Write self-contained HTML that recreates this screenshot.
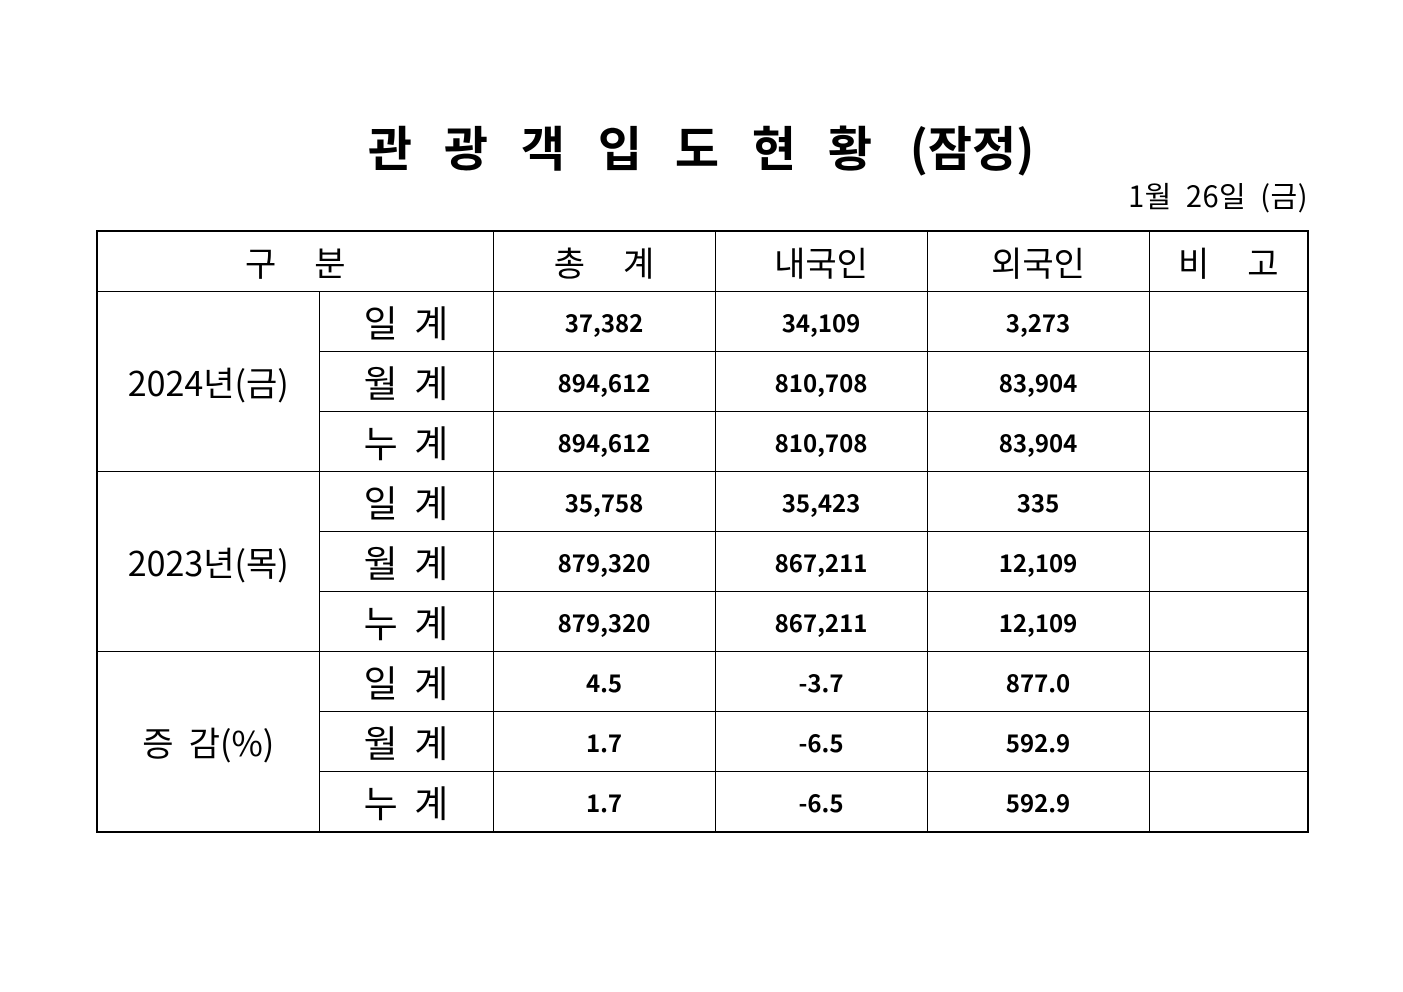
<!DOCTYPE html>
<html><head><meta charset="utf-8"><style>
body{margin:0;background:#fff;width:1403px;height:992px;position:relative;overflow:hidden;font-family:"Liberation Sans","Noto Sans CJK KR","NanumGothic",sans-serif;color:#000}
.c{position:absolute;top:116px;font-size:48px;font-weight:bold;line-height:58px;font-family:"Noto Sans CJK KR","NanumGothic",sans-serif;transform:translateX(-50%);white-space:nowrap}
.d{position:absolute;right:95px;top:176px;font-size:29px;line-height:38px;font-family:"Noto Sans CJK KR",sans-serif;white-space:pre;letter-spacing:0.5px}
table{position:absolute;left:96px;top:230px;border-collapse:collapse;border:2px solid #000;table-layout:fixed;width:1211px}
td{border:1px solid #000;text-align:center;padding:0;height:59px;line-height:59px;font-size:24px;font-weight:bold;font-family:"Noto Sans CJK KR",sans-serif;white-space:pre;overflow:hidden}
.h{font-weight:normal;font-size:34px;height:59px;line-height:59px}
.g{font-weight:normal;font-size:34px}
.s{font-weight:normal;font-size:37px}
</style></head><body>
<div class="c" style="left:390px">관</div>
<div class="c" style="left:466px">광</div>
<div class="c" style="left:543px">객</div>
<div class="c" style="left:620px">입</div>
<div class="c" style="left:697px">도</div>
<div class="c" style="left:774px">현</div>
<div class="c" style="left:850px">황</div>
<div class="c" style="left:972px">(잠정)</div>
<div class="d">1월  26일  (금)</div>
<table>
<colgroup><col style="width:222px"><col style="width:174px"><col style="width:222px"><col style="width:212px"><col style="width:222px"><col style="width:159px"></colgroup>
<tr><td class="h" colspan="2">구     분</td><td class="h">총     계</td><td class="h">내국인</td><td class="h">외국인</td><td class="h">비     고</td></tr>
<tr><td class="g" rowspan="3">2024년(금)</td><td class="s">일  계</td><td>37,382</td><td>34,109</td><td>3,273</td><td></td></tr>
<tr><td class="s">월  계</td><td>894,612</td><td>810,708</td><td>83,904</td><td></td></tr>
<tr><td class="s">누  계</td><td>894,612</td><td>810,708</td><td>83,904</td><td></td></tr>
<tr><td class="g" rowspan="3">2023년(목)</td><td class="s">일  계</td><td>35,758</td><td>35,423</td><td>335</td><td></td></tr>
<tr><td class="s">월  계</td><td>879,320</td><td>867,211</td><td>12,109</td><td></td></tr>
<tr><td class="s">누  계</td><td>879,320</td><td>867,211</td><td>12,109</td><td></td></tr>
<tr><td class="g" rowspan="3">증  감(%)</td><td class="s">일  계</td><td>4.5</td><td>-3.7</td><td>877.0</td><td></td></tr>
<tr><td class="s">월  계</td><td>1.7</td><td>-6.5</td><td>592.9</td><td></td></tr>
<tr><td class="s">누  계</td><td>1.7</td><td>-6.5</td><td>592.9</td><td></td></tr>
</table>
</body></html>
